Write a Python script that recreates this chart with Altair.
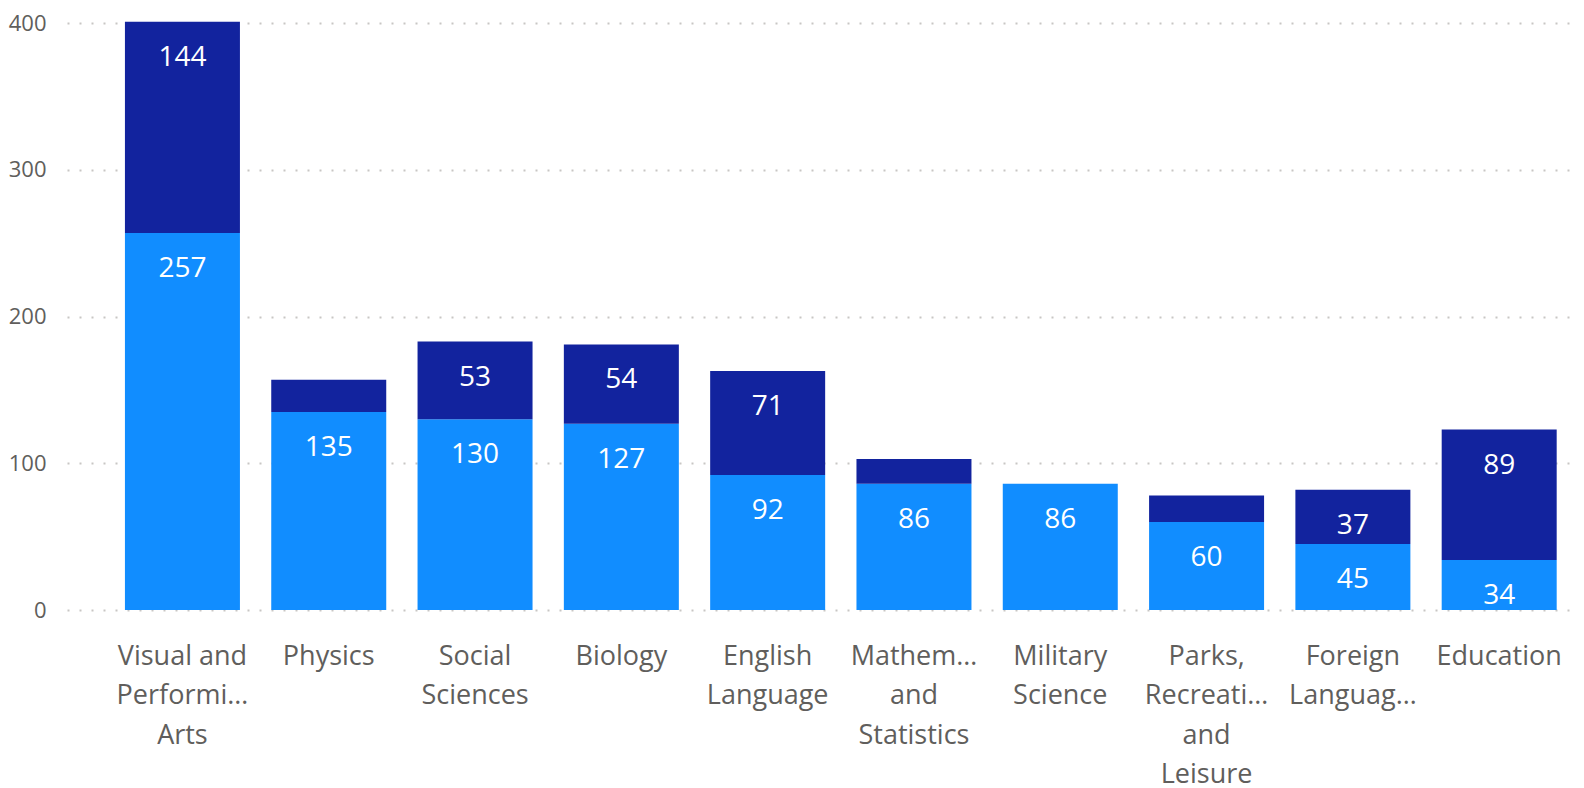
import json
import altair as alt
import pandas as pd

FONT = "Open Sans"

categories = [
    "Visual and Performing Arts",
    "Physics",
    "Social Sciences",
    "Biology",
    "English Language",
    "Mathematics and Statistics",
    "Military Science",
    "Parks, Recreation and Leisure",
    "Foreign Languages",
    "Education",
]
wrapped_labels = [
    "Visual and|Performi…|Arts",
    "Physics",
    "Social|Sciences",
    "Biology",
    "English|Language",
    "Mathem…|and|Statistics",
    "Military|Science",
    "Parks,|Recreati…|and|Leisure",
    "Foreign|Languag…",
    "Education",
]
series_names = ["Series 1", "Series 2"]
lower_values = [257, 135, 130, 127, 92, 86, 86, 60, 45, 34]
upper_values = [144, 22, 53, 54, 71, 17, 0, 18, 37, 89]
colors = ["#118DFF", "#12239E"]

rows = []
for i, c in enumerate(categories):
    rows.append({"category": c, "series": series_names[0], "order": 0, "value": lower_values[i]})
    rows.append({"category": c, "series": series_names[1], "order": 1, "value": upper_values[i]})
df = pd.DataFrame(rows)

cat_js = json.dumps(categories, ensure_ascii=False)
wrap_js = json.dumps(wrapped_labels, ensure_ascii=False)
label_expr = f"split({wrap_js}[indexof({cat_js}, datum.value)], '|')"

base = alt.Chart(df).transform_stack(
    stack="value", groupby=["category"], as_=["y0", "y1"],
    sort=[alt.SortField("order", order="ascending")],
)

x_enc = alt.X(
    "category:N",
    sort=categories,
    scale=alt.Scale(paddingInner=0.214, paddingOuter=0.264, align=0.75),
    axis=alt.Axis(
        title=None, labelExpr=label_expr, labelAngle=0, labelFont=FONT,
        labelFontSize=27, labelColor="#605E5C", labelLineHeight=39.5,
        labelPadding=33, ticks=False, domain=False, labelOverlap=False,
        labelLimit=0,
    ),
)

bars = base.mark_bar().encode(
    x=x_enc,
    y=alt.Y(
        "y1:Q",
        scale=alt.Scale(domain=[0, 409], nice=False),
        axis=alt.Axis(
            title=None, values=[0, 100, 200, 300, 400], labelFont=FONT,
            labelFontSize=22, labelColor="#605E5C", labelPadding=21,
            ticks=False, domain=False, grid=True, gridColor="#C8C6C4",
            gridDash=[2, 10], gridWidth=2,
        ),
    ),
    y2="y0:Q",
    color=alt.Color("series:N", scale=alt.Scale(domain=series_names, range=colors), legend=None),
)

labels = base.transform_filter("datum.value >= 30").mark_text(
    font=FONT, fontSize=28, color="white", baseline="alphabetic", dy=44,
).encode(
    x=alt.X("category:N", sort=categories),
    y=alt.Y("y1:Q"),
    text=alt.Text("value:Q"),
)

chart = (bars + labels).properties(
    width=1509, height=600,
    autosize=alt.AutoSizeParams(type="none"),
    padding={"left": 59, "top": 2, "right": 0, "bottom": 178},
).configure_view(stroke=None)

chart.save("out.html", embed_options={"renderer": "svg", "actions": False})
